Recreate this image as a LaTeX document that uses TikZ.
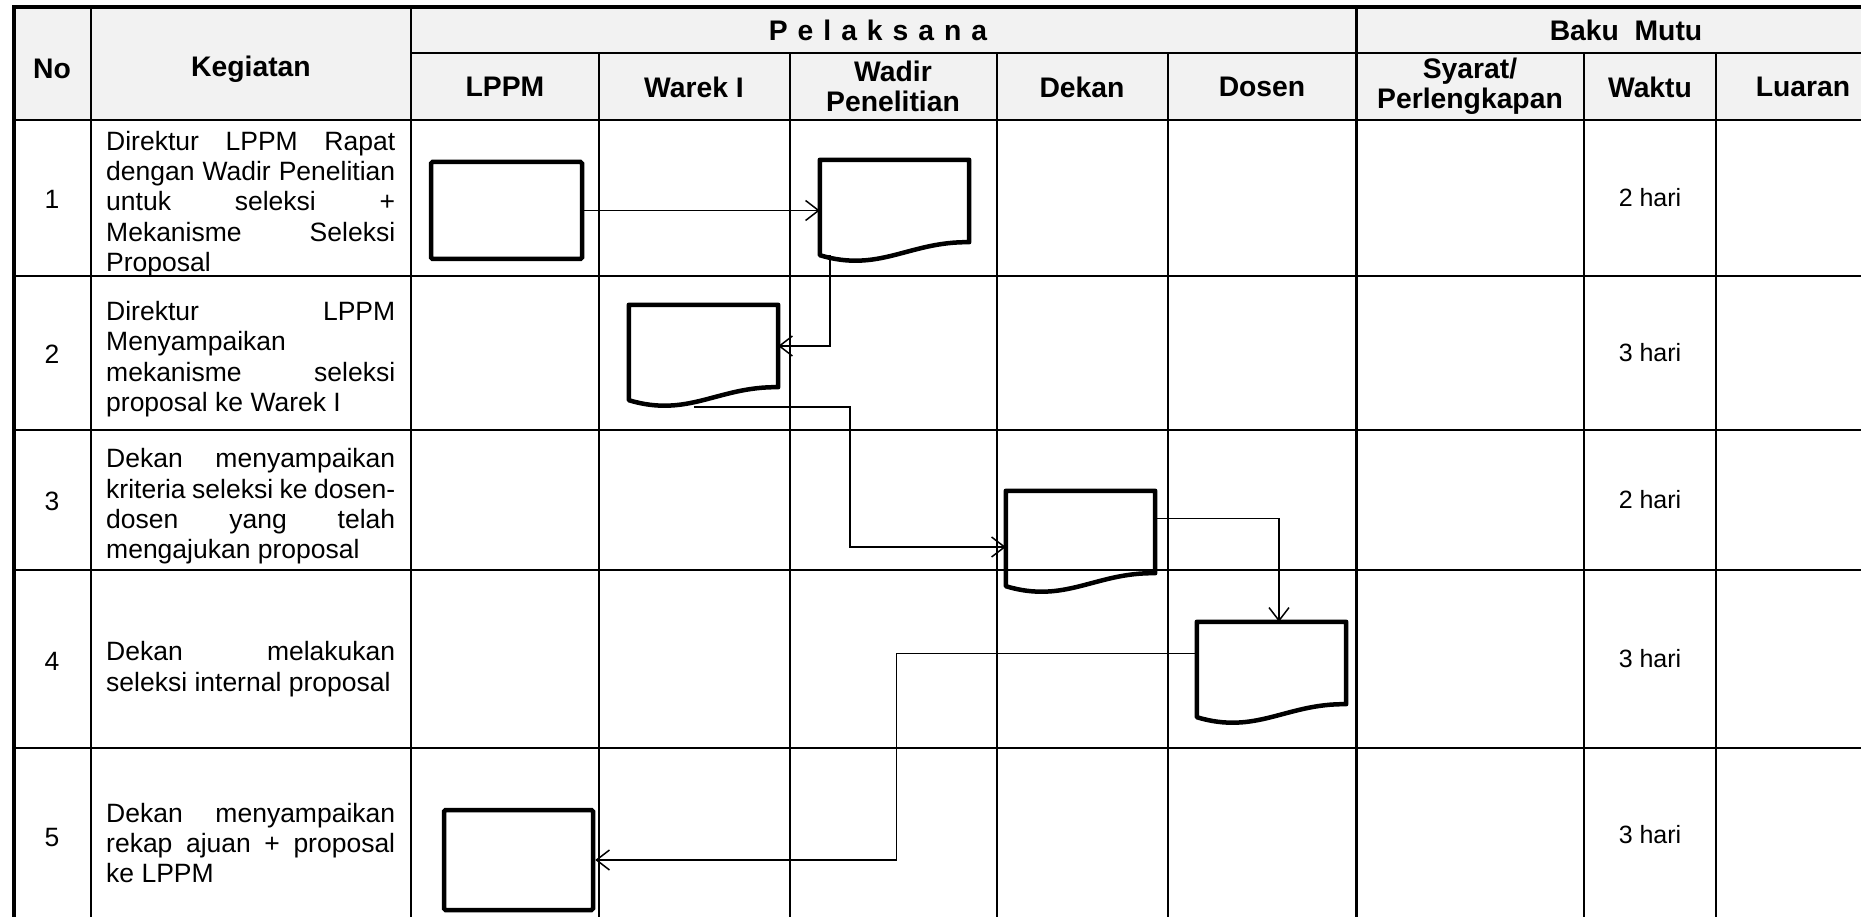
\documentclass[tikz,border=0pt]{standalone}
\usepackage{fontspec}
\setmainfont{Liberation Sans}
\usetikzlibrary{arrows.meta}
\definecolor{hdrgray}{HTML}{F2F2F2}
\newcommand\NS{\spaceskip=0pt\xspaceskip=0pt\relax}
\newcommand\JL[1]{\makebox[289pt][s]{\NS#1}\\}
\begin{document}
\begin{tikzpicture}[x=1pt,y=-1pt,
  gridline/.style={line width=2pt},
  outerline/.style={line width=3.5pt},
  thickgrid/.style={line width=3pt},
  hdrtext/.style={font=\bfseries\fontsize{28.3pt}{30pt}\selectfont, align=center, inner sep=0pt},
  bodytext/.style={font=\fontsize{26.5pt}{30.3pt}\selectfont, text width=289pt, align=left, inner sep=0pt, anchor=west},
  numtext/.style={font=\fontsize{26.5pt}{30pt}\selectfont, inner sep=0pt},
  waktutext/.style={font=\fontsize{25pt}{30pt}\selectfont, inner sep=0pt},
  procbox/.style={draw, line width=4.5pt, rounded corners=1.5pt, inner sep=0pt, minimum width=151pt, minimum height=97pt},
  docnode/.style={inner sep=0pt, minimum width=149pt, minimum height=95pt},
  docline/.style={line width=4.5pt, line join=round},
  conn/.style={line width=1.5pt, -{Straight Barb[length=13pt, width=20pt, line width=1.5pt]}},
]
\useasboundingbox (0,0) rectangle (1861,917);
\clip (0,0) rectangle (1861,917);

% header background
\fill[hdrgray] (14,7) rectangle (1892,120);

% horizontal grid lines
\draw[gridline] (411,53) -- (1892,53);
\foreach \yy in {120,275.7,430.4,569.5,748} {
  \draw[gridline] (14,\yy) -- (1892,\yy);
}
% vertical grid lines
\foreach \xx in {91,411} { \draw[gridline] (\xx,7) -- (\xx,925); }
\foreach \xx in {599,790,997,1168,1584,1716} { \draw[gridline] (\xx,53) -- (\xx,925); }
\draw[thickgrid] (1356,7) -- (1356,925);
% outer border
\draw[outerline] (14,925) -- (14,7) -- (1892,7);

% header texts
\node[hdrtext] (hNo) at (52,69) {No};
\node[hdrtext] (hKeg) at (251,69) {Kegiatan};
\node[hdrtext] (hPel) at (878,30) {\spaceskip=10pt\relax P e l a k s a n a};
\node[hdrtext] (hBaku) at (1626,30) {Baku~~Mutu};
\node[hdrtext] (hLPPM) at (505,87) {LPPM};
\node[hdrtext] (hWarek) at (694,87) {Warek I};
\node[hdrtext] (hWadir) at (893,86) {Wadir\\Penelitian};
\node[hdrtext] (hDekan) at (1082,87) {Dekan};
\node[hdrtext] (hDosen) at (1262,87) {Dosen};
\node[hdrtext] (hSyarat) at (1470,86) {Syarat/\\Perlengkapan};
\node[hdrtext] (hWaktu) at (1650,87) {Waktu};
\node[hdrtext] (hLuaran) at (1803,87) {Luaran};

% row numbers
\node[numtext] (n1) at (52,199) {1};
\node[numtext] (n2) at (52,354) {2};
\node[numtext] (n3) at (52,501) {3};
\node[numtext] (n4) at (52,661) {4};
\node[numtext] (n5) at (52,838) {5};

% activities
\node[bodytext] (k1) at (106,204) {\JL{Direktur LPPM Rapat}\JL{dengan Wadir Penelitian}\JL{untuk seleksi +}\JL{Mekanisme Seleksi}\NS Proposal};
\node[bodytext] (k2) at (106,359) {\JL{Direktur LPPM}\NS Menyampaikan\\\JL{mekanisme seleksi}\NS proposal ke Warek I};
\node[bodytext] (k3) at (106,506.5) {\JL{Dekan menyampaikan}\JL{kriteria seleksi ke dosen-}\JL{dosen yang telah}\NS mengajukan proposal};
\node[bodytext] (k4) at (106,669) {\JL{Dekan melakukan}\NS seleksi internal proposal};
\node[bodytext] (k5) at (106,843) {\JL{Dekan menyampaikan}\JL{rekap ajuan + proposal}\NS ke LPPM};

% waktu
\node[waktutext] (w1) at (1650,198) {2 hari};
\node[waktutext] (w2) at (1650,353) {3 hari};
\node[waktutext] (w3) at (1650,500) {2 hari};
\node[waktutext] (w4) at (1650,659) {3 hari};
\node[waktutext] (w5) at (1650,835) {3 hari};

% process boxes
\node[procbox] (s1) at (506.5,210.5) {};
\node[procbox, minimum width=149pt, minimum height=100pt] (s6) at (518.5,860) {};

% documents
\node[docnode] (d2) at (894.5,207.5) {};
\node[docnode] (d3) at (703.5,352.5) {};
\node[docnode] (d4) at (1080.5,538.5) {};
\node[docnode] (d5) at (1271.5,669.5) {};
\foreach \d in {d2,d3,d4,d5} {
  \draw[docline] (\d.south west) -- (\d.north west) -- (\d.north east) -- ([yshift=13pt]\d.south east)
    .. controls ([xshift=89.4pt,yshift=14pt]\d.south west) and ([xshift=59.6pt,yshift=-18pt]\d.south west) .. (\d.south west) -- cycle;
}

% connectors
\coordinate (c2s) at ([xshift=10pt]d2.south west);
\coordinate (c3s) at ([xshift=65pt,yshift=-7pt]d3.south west);
\coordinate (c3x) at (850,480);
\coordinate (c5x) at (896.7,750);
\draw[conn] (s1.east) -- (s1.east -| d2.west);
\draw[conn] (c2s) |- ([yshift=6.5pt]d3.east);
\draw[conn] (c3s) -| (c3x) |- ([yshift=-8.5pt]d4.west);
\draw[conn] ([yshift=20pt]d4.east) -| ([xshift=7.5pt]d5.north);
\draw[conn] ([yshift=16pt]d5.west) -| (c5x) |- (s6.east);
\end{tikzpicture}
\end{document}
